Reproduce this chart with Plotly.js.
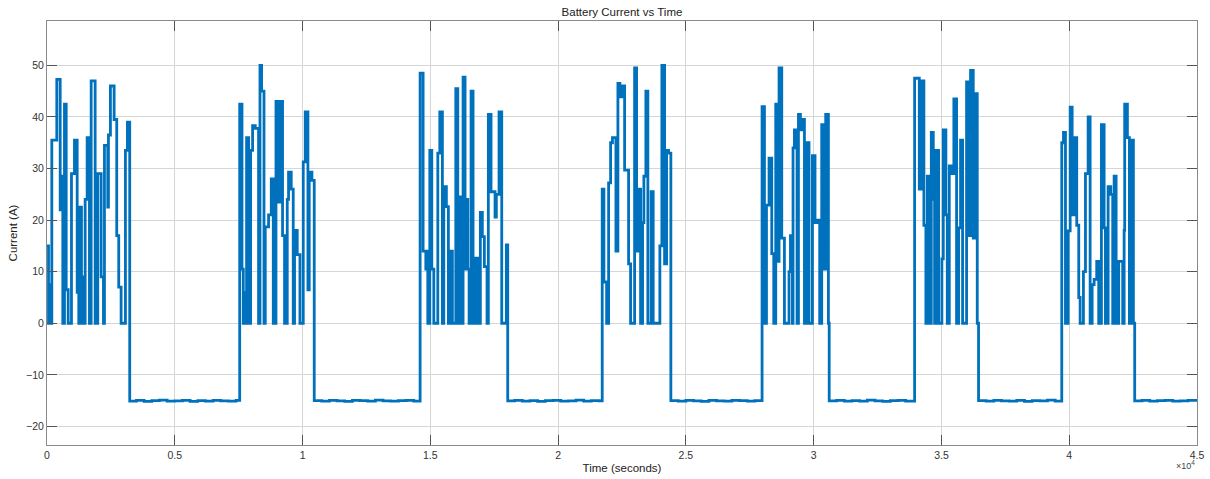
<!DOCTYPE html>
<html>
<head>
<meta charset="utf-8">
<script src="https://cdn.plot.ly/plotly-3.0.1.min.js"></script>
<style>html,body{margin:0;padding:0;background:#fff;}#chart{width:1210px;height:479px;}</style>
</head>
<body>
<div id="chart"></div>
<script>
// Time in seconds, current in amperes (step data)
const drive1Time = [0,59,98,164,188,383,516,555,618,684,751,829,958,1075,1181,1243,1282,1349,1415,1466,1493,1571,1661,1728,1884,1986,2119,2209,2248,2377,2404,2482,2627,2729,2807,2900,3069,3147];
const drive1Current = [15,0,7.5,0,35.5,47.3,22,28.5,0,42.5,6.5,0,29,35.5,6,0,22.5,0,9,0,24,36,0,47,0,29,9,0,34.5,22.5,36.5,46,39.5,17,7,0,33.5,39];
const rest1Time = [3237,3500,3800,4100,4400,4700,5000,5300,5600,5900,6200,6500,6800,7100,7400];
const rest1Current = [-15.1,-14.95,-15.15,-15.0,-14.9,-15.1,-15.05,-14.95,-15.15,-15.0,-15.1,-14.95,-15.05,-15.1,-14.95];

const drive2Time = [7540,7630,7681,7709,7787,7810,7888,7967,8045,8150,8279,8334,8397,8491,8541,8670,8776,8854,8960,9038,9139,9217,9296,9401,9452,9557,9635,9686,9792,9898,10027,10105,10210,10261,10367];
const drive2Current = [42.5,10.5,0,6,0,36,0,33.5,38.3,37.8,0,50,45,0,18.7,21,28,0,43,23.5,43,17,0,24,29.3,26,0,18,13.3,0,31.3,41,6.5,29.3,27.7];
const rest2Time = [10457,10750,11050,11350,11650,11950,12250,12550,12850,13150,13450,13750,14050,14350];
const rest2Current = [-15.0,-15.1,-14.95,-15.05,-15.15,-14.95,-15.0,-15.1,-14.9,-15.05,-15.1,-15.0,-14.95,-15.1];

const drive3Time = [14600,14717,14823,14854,14901,14979,15057,15136,15292,15370,15472,15526,15628,15706,15785,15863,15996,16074,16125,16230,16281,16359,16410,16465,16516,16594,16672,16750,16856,16957,17035,17114,17219,17270,17375,17532,17583,17688,17794,17974];
const drive3Current = [48.5,14,10.5,14,0,33.5,10.5,0,33,41,0,26.5,22.6,0,14,0,45.5,0,24.5,0,47.7,10.5,24,10.5,0,45,0,12.6,0,21.5,16.8,11,0,40.5,25.5,20.6,25,41,0,15.2];
const rest3Time = [18028,18300,18600,18900,19200,19500,19800,20100,20400,20700,21000,21300,21600];
const rest3Current = [-15.05,-14.95,-15.1,-15.0,-15.15,-15.0,-14.95,-15.1,-15.05,-14.9,-15.1,-15.0,-15.05];

const drive4Time = [21726,21792,21898,21976,22054,22127,22262,22340,22418,22524,22602,22758,22836,22993,23071,23149,23227,23305,23356,23434,23512,23641,23720,23982,24060,24166,24244,24322];
const drive4Current = [26,8,0,27.2,35,36,14,46.5,43.9,46,29.7,11.5,0,49.5,14,26,0,19.5,28.5,45,0,25.5,0,15,50,11.5,33.5,33];
const rest4Time = [24412,24700,25000,25300,25600,25900,26200,26500,26800,27100,27400,27700];
const rest4Current = [-15.0,-15.1,-14.95,-15.05,-15.15,-14.95,-15.05,-15.1,-14.95,-15.0,-15.1,-15.0];

const drive5Time = [27981,28074,28153,28254,28360,28438,28516,28567,28645,28751,28856,29036,29091,29169,29193,29247,29349,29404,29482,29560,29639,29717,29818,29951,30053,30131,30236,30315,30393,30471,30577];
const drive5Current = [42,0,22.9,32,13.5,0,42.5,12,49.5,16.5,0,10,17,0,34,37.5,0,40.5,37.5,39.5,0,35,0,32.5,19.5,20,0,38.5,10.5,40.5,0];
const rest5Time = [30608,30900,31200,31500,31800,32100,32400,32700,33000,33300,33600];
const rest5Current = [-15.05,-14.95,-15.1,-15.0,-15.1,-14.9,-15.05,-15.15,-15.0,-14.95,-15.1];

const drive6Time = [33950,34133,34211,34313,34391,34446,34548,34603,34681,34732,34783,34888,35017,35072,35174,35228,35307,35408,35486,35592,35670,35748,35827,35983,36088,36139,36245,36323,36401];
const drive6Current = [47.5,26,47,19,0,28.5,0,37,24,0,33.5,0,12.5,37.5,21,0,30.5,29,43.5,0,18.5,35.5,0,46.8,17,49,16.5,44.5,0];
const rest6Time = [36452,36750,37050,37350,37650,37950,38250,38550,38850,39150,39450];
const rest6Current = [-15.0,-15.1,-14.95,-15.05,-15.1,-14.95,-15.15,-15.0,-15.05,-14.9,-15.1];

const drive7Time = [39708,39775,39853,39958,40037,40115,40216,40294,40373,40427,40556,40635,40740,40818,40897,40975,41076,41154,41260,41366,41417,41522,41624,41702,41757,41835,41937,42093,42148,42171,42277,42355,42433,42511];
const drive7Current = [35,37,0,17.9,41.9,21,36,19,5,0,10,29,40,0,7.5,8.5,12,0,38.5,18.5,0,26.5,25,0,28.5,0,12,0,18,42.5,36,0,35.5,0];
const rest7Time = [42562,42850,43150,43450,43750,44050,44350,44650,45000];
const rest7Current = [-15.05,-14.95,-15.1,-15.0,-14.95,-15.1,-15.05,-14.95,-15.0];

const xTickVals = [0,5000,10000,15000,20000,25000,30000,35000,40000,45000];
const xTickText = ['0','0.5','1','1.5','2','2.5','3','3.5','4','4.5'];
const yTickVals = [-20,-10,0,10,20,30,40,50];

const timeAll = [].concat(drive1Time, rest1Time, drive2Time, rest2Time, drive3Time, rest3Time,
  drive4Time, rest4Time, drive5Time, rest5Time, drive6Time, rest6Time, drive7Time, rest7Time);
const currentAll = [].concat(drive1Current, rest1Current, drive2Current, rest2Current, drive3Current, rest3Current,
  drive4Current, rest4Current, drive5Current, rest5Current, drive6Current, rest6Current, drive7Current, rest7Current);

const font = 'Liberation Sans, Arial, Helvetica, sans-serif';
const trace = {
  x: timeAll, y: currentAll, type: 'scatter', mode: 'lines',
  line: {color: '#0072BD', width: 2.8, shape: 'hv'},
  hoverinfo: 'x+y'
};
const axisCommon = {
  showline: true, linecolor: '#8a8a8a', linewidth: 1, mirror: 'ticks',
  ticks: 'inside', ticklen: 10, tickcolor: '#555', tickwidth: 1,
  showgrid: true, gridcolor: '#d6d6d6', gridwidth: 1, zeroline: false,
  tickfont: {family: font, size: 10.5, color: '#333'}
};
const layout = {
  width: 1210, height: 479,
  margin: {l: 47, r: 13, t: 21, b: 34},
  paper_bgcolor: '#fff', plot_bgcolor: '#fff',
  showlegend: false,
  title: {text: 'Battery Current vs Time', font: {family: font, size: 11.5, color: '#222'},
    x: 0.5, xref: 'paper', y: 0.975, yref: 'container', yanchor: 'middle'},
  xaxis: Object.assign({}, axisCommon, {
    range: [0, 45000], tickvals: xTickVals, ticktext: xTickText,
    title: {text: 'Time (seconds)', font: {family: font, size: 11.5, color: '#222'}, standoff: 4}
  }),
  yaxis: Object.assign({}, axisCommon, {
    range: [-23.6, 58.6], tickvals: yTickVals,
    title: {text: 'Current (A)', font: {family: font, size: 11.5, color: '#222'}, standoff: 6}
  }),
  annotations: [{
    text: '×10<sup>4</sup>', xref: 'paper', yref: 'paper', x: 1.0, y: -0.047,
    xanchor: 'right', yanchor: 'middle', showarrow: false,
    font: {family: font, size: 9, color: '#444'}
  }]
};
Plotly.newPlot('chart', [trace], layout, {displayModeBar: false, staticPlot: true});
</script>
</body>
</html>
